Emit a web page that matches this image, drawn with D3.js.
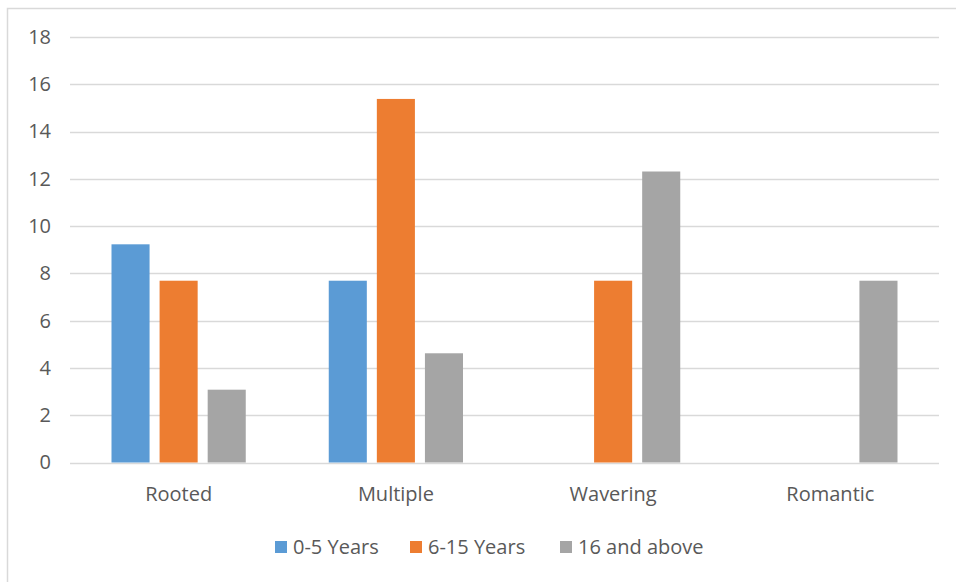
<!DOCTYPE html>
<html>
<head>
<meta charset="utf-8">
<script src="https://cdn.jsdelivr.net/npm/d3@7"></script>
<style>
body { margin: 0; background: #fff; }
text { font-family: "Open Sans", sans-serif; fill: #595959; }
</style>
</head>
<body>
<div id="chart"></div>
<script>
// data
var categories = ["Rooted", "Multiple", "Wavering", "Romantic"];
var seriesNames = ["0-5 Years", "6-15 Years", "16 and above"];
var years0to5 = [9.23, 7.69, 0, 0];
var years6to15 = [7.69, 15.38, 7.69, 0];
var years16up = [3.08, 4.62, 12.31, 7.69];
var yTicks = [0, 2, 4, 6, 8, 10, 12, 14, 16, 18];

var colors = ["#5B9BD5", "#ED7D31", "#A5A5A5"];
var seriesValues = [years0to5, years6to15, years16up];

var W = 956, H = 582;
var margin = {top: 37, right: 17, bottom: 120, left: 70};
var font = "'Open Sans', sans-serif";

var svg = d3.select("#chart").append("svg")
	.attr("width", W)
	.attr("height", H);

// outer chart border (only top and left visible)
svg.append("rect")
	.attr("x", 7.5)
	.attr("y", 8.5)
	.attr("width", W + 20)
	.attr("height", H + 20)
	.style("fill", "none")
	.style("stroke", "#d9d9d9")
	.style("stroke-width", 1.5);

var x0 = d3.scaleBand().domain(categories).range([margin.left, W - margin.right]);
var x1 = d3.scaleBand().domain(seriesNames)
	.range([41.5, x0.bandwidth() - 41.5])
	.paddingInner(10 / 48);
var y = d3.scaleLinear().domain([0, 18]).range([462.5, margin.top]);

// gridlines
svg.append("g").selectAll("line")
	.data(yTicks)
	.enter().append("line")
	.attr("x1", margin.left)
	.attr("x2", W - margin.right)
	.attr("y1", d => Math.round(y(d)) + 0.5)
	.attr("y2", d => Math.round(y(d)) + 0.5)
	.style("stroke", "#d9d9d9")
	.style("stroke-width", 1.3);

// y axis labels
var yAxis = svg.append("g")
	.attr("transform", "translate(" + (margin.left - 19) + ",0)")
	.call(d3.axisLeft(y).tickValues(yTicks).tickSize(0).tickPadding(0));
yAxis.select(".domain").remove();
yAxis.selectAll("text")
	.style("font-size", "20px")
	.style("fill", "#595959")
	.style("font-family", font);

// bars
var rows = categories.map((c, i) => ({cat: c, vals: seriesNames.map((s, j) => ({s: s, v: seriesValues[j][i], c: colors[j]}))}));

var groups = svg.selectAll(".group")
	.data(rows)
	.enter().append("g")
	.attr("class", "group")
	.attr("transform", d => "translate(" + x0(d.cat) + ",0)");

groups.selectAll("rect")
	.data(d => d.vals.filter(e => e.v > 0))
	.enter().append("rect")
	.attr("x", d => x1(d.s))
	.attr("width", x1.bandwidth())
	.attr("y", d => y(d.v))
	.attr("height", d => y(0) - y(d.v))
	.style("fill", d => d.c);

// x axis labels
var xAxis = svg.append("g")
	.attr("transform", "translate(0,487)")
	.call(d3.axisBottom(x0).tickSize(0).tickPadding(0));
xAxis.select(".domain").remove();
xAxis.selectAll("text")
	.style("font-size", "20px")
	.style("fill", "#595959")
	.style("font-family", font);

// legend
var legendX = [275, 410, 560];
var legend = svg.selectAll(".legend")
	.data(seriesNames)
	.enter().append("g")
	.attr("class", "legend")
	.attr("transform", (d, i) => "translate(" + legendX[i] + ",541)");

legend.append("rect")
	.attr("width", 12)
	.attr("height", 12)
	.style("fill", (d, i) => colors[i]);

legend.append("text")
	.attr("x", 18)
	.attr("y", 12.5)
	.style("font-size", "20px")
	.text(d => d);
</script>
</body>
</html>
